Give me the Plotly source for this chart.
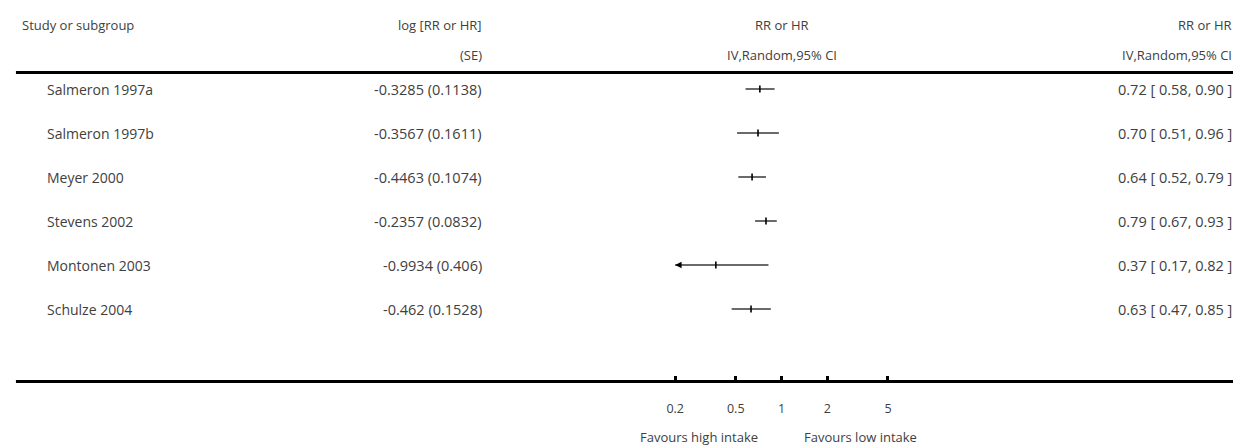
import math
import plotly.graph_objects as go

# ---- data ----
studies = ["Salmeron 1997a", "Salmeron 1997b", "Meyer 2000", "Stevens 2002",
           "Montonen 2003", "Schulze 2004"]
log_rr = [-0.3285, -0.3567, -0.4463, -0.2357, -0.9934, -0.462]
se = [0.1138, 0.1611, 0.1074, 0.0832, 0.406, 0.1528]
rr = [0.72, 0.70, 0.64, 0.79, 0.37, 0.63]
ci_lo = [0.58, 0.51, 0.52, 0.67, 0.17, 0.47]
ci_hi = [0.90, 0.96, 0.79, 0.93, 0.82, 0.85]
tick_vals = [0.2, 0.5, 1, 2, 5]
tick_text = ["0.2", "0.5", "1", "2", "5"]
x_min, x_max = 0.2, 5
left_label = "Favours high intake"
right_label = "Favours low intake"

W, H = 1234, 448
FONT = "Open Sans"
TXT = "#404040"

rows = list(range(1, len(studies) + 1))

# geometry (pixels)
row1_px, row_step = 89, 44
axis_px = 381.5
ytop = 1 - row1_px / row_step
ybot = 1 + (axis_px - row1_px) / row_step
x0_px, x1_px = 673, 887          # pixel positions of x_min and x_max
pad = 0.02                       # extra log-range so edge ticks are drawn
dec_px = (x1_px - x0_px) / (math.log10(x_max) - math.log10(x_min))
dom0 = (x0_px - pad * dec_px) / W
dom1 = (x1_px + pad * dec_px) / W

fig = go.Figure()

# CI lines (clipped to the displayed scale)
for i, r in enumerate(rows):
    fig.add_trace(go.Scatter(
        x=[max(ci_lo[i], x_min), min(ci_hi[i], x_max)], y=[r, r], mode="lines",
        line=dict(color="#6a6a6a", width=2), hoverinfo="skip", showlegend=False))

# point estimates
fig.add_trace(go.Scatter(
    x=rr, y=rows, mode="markers",
    marker=dict(symbol="line-ns", size=5, line=dict(color="black", width=1.6)),
    showlegend=False, hoverinfo="skip"))

def px_to_paper(py):
    return 1 - py / H

ann = []
# headers
hdr = dict(xref="paper", yref="paper", showarrow=False,
           font=dict(family=FONT, size=13, color=TXT), yanchor="middle")
ann.append(dict(hdr, x=14 / W, y=px_to_paper(25), text="Study or subgroup", xanchor="left"))
ann.append(dict(hdr, x=481 / W, y=px_to_paper(25), text="log [RR or HR]", xanchor="right"))
ann.append(dict(hdr, x=481 / W, y=px_to_paper(55), text="(SE)", xanchor="right"))
ann.append(dict(hdr, x=780 / W, y=px_to_paper(25), text="RR or HR", xanchor="center"))
ann.append(dict(hdr, x=780 / W, y=px_to_paper(55), text="IV,Random,95% CI", xanchor="center"))
ann.append(dict(hdr, x=1235 / W, y=px_to_paper(25), text="RR or HR", xanchor="right"))
ann.append(dict(hdr, x=1235 / W, y=px_to_paper(55), text="IV,Random,95% CI", xanchor="right"))

# row texts
rowt = dict(xref="paper", yref="y", showarrow=False, yanchor="middle")
for i, r in enumerate(rows):
    ann.append(dict(rowt, x=39 / W, y=r, text=studies[i], xanchor="left",
                    font=dict(family=FONT, size=14, color=TXT)))
    ann.append(dict(rowt, x=481 / W, y=r, text=f"{log_rr[i]} ({se[i]})", xanchor="right",
                    font=dict(family=FONT, size=14.5, color=TXT)))
    ann.append(dict(rowt, x=1235 / W, y=r,
                    text=f"{rr[i]:.2f} [ {ci_lo[i]:.2f}, {ci_hi[i]:.2f} ]", xanchor="right",
                    font=dict(family=FONT, size=14.5, color=TXT)))
    # arrows for CIs beyond the axis
    if ci_lo[i] < x_min:
        ann.append(dict(xref="x", yref="y", x=math.log10(x_min), y=r, ax=7, ay=0,
                        text="", showarrow=True,
                        arrowhead=2, arrowsize=0.8, arrowwidth=1.6, arrowcolor="black"))
    if ci_hi[i] > x_max:
        ann.append(dict(xref="x", yref="y", x=math.log10(x_max), y=r, ax=-7, ay=0,
                        text="", showarrow=True,
                        arrowhead=2, arrowsize=0.8, arrowwidth=1.6, arrowcolor="black"))

# favours labels
ann.append(dict(xref="x", yref="paper", x=0, y=px_to_paper(437), text=left_label,
                xanchor="right", xshift=-22, showarrow=False, yanchor="middle",
                font=dict(family=FONT, size=13, color=TXT)))
ann.append(dict(xref="x", yref="paper", x=0, y=px_to_paper(437), text=right_label,
                xanchor="left", xshift=20, showarrow=False, yanchor="middle",
                font=dict(family=FONT, size=13, color=TXT)))

shapes = [
    # top thick rule
    dict(type="line", xref="paper", yref="paper", x0=10 / W, x1=1,
         y0=px_to_paper(72.5), y1=px_to_paper(72.5), line=dict(color="black", width=3)),
    # bottom thick rule
    dict(type="line", xref="paper", yref="paper", x0=10 / W, x1=1,
         y0=px_to_paper(axis_px), y1=px_to_paper(axis_px), line=dict(color="black", width=3)),
    # null line
    dict(type="line", xref="x", yref="paper", x0=0, x1=0,
         y0=px_to_paper(74), y1=px_to_paper(axis_px), line=dict(color="#777777", width=1)),
    dict(type="line", xref="x", yref="paper", x0=0, x1=0,
         y0=px_to_paper(axis_px), y1=0, line=dict(color="#eeeeee", width=1)),
]

fig.update_layout(
    width=W, height=H,
    margin=dict(l=0, r=0, t=0, b=0),
    paper_bgcolor="white", plot_bgcolor="white",
    showlegend=False,
    annotations=ann, shapes=shapes,
    xaxis=dict(type="log", range=[math.log10(x_min) - pad, math.log10(x_max) + pad],
               domain=[dom0, dom1],
               showgrid=False, zeroline=False, showline=False,
               ticks="inside", ticklen=6, tickwidth=2.5, tickcolor="black",
               tickvals=tick_vals, ticktext=tick_text,
               ticklabelstandoff=18,
               tickfont=dict(family=FONT, size=12.5, color=TXT),
               fixedrange=True),
    yaxis=dict(range=[ybot, ytop], domain=[1 - axis_px / H, 1],
               showgrid=False, zeroline=False, showline=False,
               showticklabels=False, ticks="", fixedrange=True),
)

fig.write_html("out.html", config={"displayModeBar": False},
               post_script="document.body.style.margin='0px';document.body.style.overflow='hidden';")
